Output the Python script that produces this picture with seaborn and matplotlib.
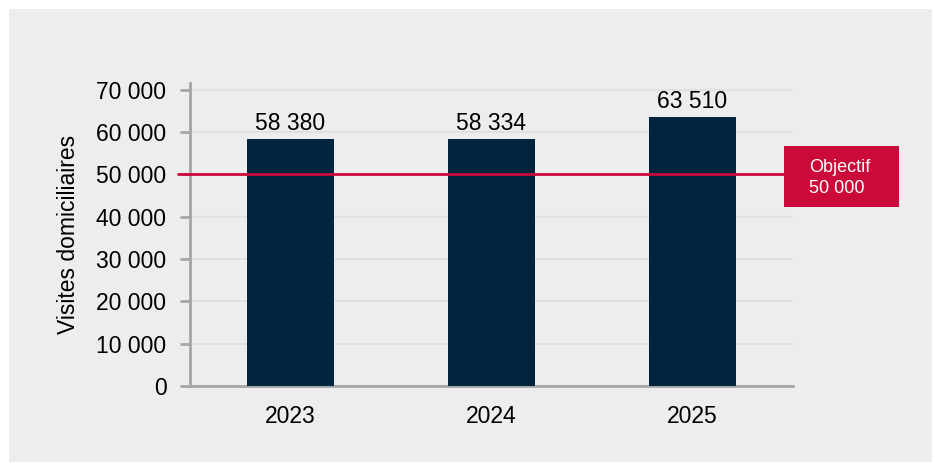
import matplotlib
matplotlib.use("Agg")
import matplotlib.pyplot as plt
import matplotlib.ticker as mticker
from matplotlib.patches import Rectangle
import matplotlib.transforms as mtransforms
import seaborn as sns

# data
years = ["2023", "2024", "2025"]
visits = [58380, 58334, 63510]
objectif = 50000

bg = "#ededed"
navy = "#02253f"
red = "#cc0a3a"
spine_col = "#a6a6a6"

sns.set_style("white")
plt.rcParams['font.family'] = ['Liberation Sans', 'DejaVu Sans']
plt.rcParams['text.color'] = "black"
plt.rcParams['axes.labelcolor'] = "black"
plt.rcParams['xtick.labelcolor'] = "black"
plt.rcParams['ytick.labelcolor'] = "black"

fig = plt.figure(figsize=(9.35, 4.67), dpi=100, facecolor="white")
fig.patches.append(Rectangle((9 / 935, 5 / 467), 923 / 935, 453 / 467,
                             transform=fig.transFigure, facecolor=bg,
                             edgecolor="none", zorder=-10))
ax = fig.add_axes([190 / 935, 81 / 467, 603 / 935, 303 / 467])
ax.set_facecolor(bg)

sns.barplot(x=years, y=visits, color=navy, width=0.43, saturation=1,
            edgecolor="none", linewidth=0, ax=ax, zorder=3)

ax.set_xlim(-0.5, 2.5)
ax.set_ylim(0, 71600)
ax.set_yticks(range(0, 70001, 10000))
ax.yaxis.set_major_formatter(mticker.FuncFormatter(lambda v, p: f"{v:,.0f}".replace(",", " ")))
ax.grid(axis="y", color="#e0e0e0", linewidth=1.5, zorder=0)
ax.set_axisbelow(True)

# ticks at category boundaries, labels at centres
ax.set_xticks([-0.5, 0.5, 1.5, 2.5], minor=True)
ax.tick_params(axis="x", which="major", length=0, pad=14, labelsize=16.5)
ax.tick_params(axis="x", which="minor", length=6, width=2, color=spine_col)
ax.tick_params(axis="y", length=7, width=2, color=spine_col, labelsize=16.5, pad=10, left=True)

for s in ["top", "right"]:
    ax.spines[s].set_visible(False)
for s in ["left", "bottom"]:
    ax.spines[s].set_color(spine_col)
    ax.spines[s].set_linewidth(2)

ax.set_ylabel("Visites domiciliaires", fontsize=16.5, labelpad=12)
ax.set_xlabel("")

for i, v in enumerate(visits):
    ax.annotate(f"{v:,}".replace(",", " "), (i, v), xytext=(0, 3),
                textcoords="offset points", ha="center", va="bottom", fontsize=16.5)

# objective line and box
trans = mtransforms.blended_transform_factory(ax.transAxes, ax.transData)
ax.plot([-0.02, 0.99], [objectif, objectif], color=red, linewidth=2,
        transform=trans, clip_on=False, zorder=4)
ax.add_patch(Rectangle((0.985, objectif - 7600), 0.19, 14200, transform=trans,
                       facecolor=red, edgecolor="none", clip_on=False, zorder=5))
ax.text(1.026, objectif - 800, f"Objectif\n{objectif:,}".replace(",", " "), transform=trans,
        color="white", fontsize=13, ha="left", va="center", linespacing=1.35, zorder=6)

fig.savefig("out.png", dpi=100, facecolor="white")
